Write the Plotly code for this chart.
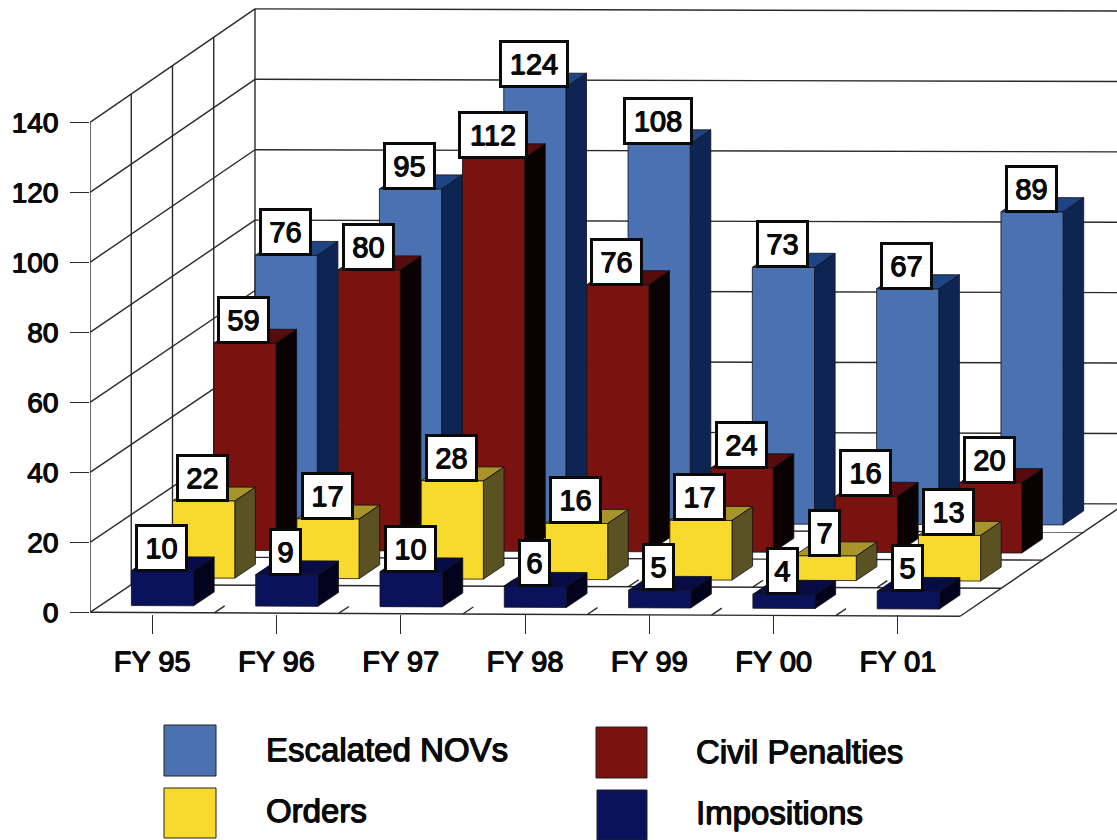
import plotly.graph_objects as go

categories = ["FY 95", "FY 96", "FY 97", "FY 98", "FY 99", "FY 00", "FY 01"]
escalated = [76, 95, 124, 108, 73, 67, 89]
civil = [59, 80, 112, 76, 24, 16, 20]
orders = [22, 17, 28, 16, 17, 7, 13]
impositions = [10, 9, 10, 6, 5, 4, 5]
value_ticks = [0, 20, 40, 60, 80, 100, 120, 140]

# back to front: name, values, depth slot, (front, top, side) colours
series = [
    ("Escalated NOVs", escalated, 3, ("#4A72B2", "#1E4484", "#0E2452")),
    ("Civil Penalties", civil, 2, ("#7A1210", "#560C0C", "#0A0202")),
    ("Orders", orders, 1, ("#F8DA2E", "#A8942A", "#5A5222")),
    ("Impositions", impositions, 0, ("#0A125C", "#070C46", "#03031E")),
]

W, H = 1117, 840
X0, Y0 = 90, 612.3
CAT_W, DEPTH_X, DEPTH_Y, UNIT = 124.3, 41.25, 27.75, 3.5
FAT = "0.6px 0 0.4px #111, -0.6px 0 0.4px #111, 0 0.5px 0.4px #111, 0 -0.5px 0.4px #111"


def tilt(d):
    return 0.0045 - 0.0005 * d


def xy(c, d, v):
    xp = CAT_W * c + DEPTH_X * d
    scale = (UNIT + 0.005 * d) / UNIT
    return c + d * DEPTH_X / CAT_W, v * scale + (DEPTH_Y * d - tilt(d) * xp) / UNIT


def poly(points):
    pts = [xy(*p) for p in points]
    pts.append(pts[0])
    return [p[0] for p in pts], [p[1] for p in pts]


def segments(pairs):
    xs, ys = [], []
    for a, b in pairs:
        xa, ya = xy(*a)
        xb, yb = xy(*b)
        xs += [xa, xb, None]
        ys += [ya, yb, None]
    return xs, ys


fig = go.Figure()
LINE = "#2a2a2a"
n = len(categories)
vmax = value_ticks[-1]


def add_lines(pairs, name, width=1.4):
    xs, ys = segments(pairs)
    fig.add_trace(go.Scatter(x=xs, y=ys, mode="lines", name=name, hoverinfo="skip",
                             line=dict(color=LINE, width=width), showlegend=False))


# walls
grid = []
for v in value_ticks:
    grid.append(((0, 0, v), (0, 4, v)))
    grid.append(((0, 4, v), (n + 1, 4, v)))
for d in range(5):
    grid.append(((0, d, 0), (0, d, vmax)))
add_lines(grid, "walls")

# floor
floor = [((0, 0, 0), (n, 0, 0)), ((n, 0, 0), (n, 4, 0))]
for d in range(1, 4):
    floor.append(((0, d, 0), (n, d, 0)))
for c in range(1, n):
    for d in range(4):
        floor.append(((c, d, 0), (c, d + 0.25, 0)))
add_lines(floor, "floor")

# bars
annotations = []
for name, values, slot, (front, top, side) in series:
    d0, d1 = slot + 0.25, slot + 0.75
    faces = {"top": ([], [], top), "side": ([], [], side), "front": ([], [], front)}
    for c, v in enumerate(values):
        c0, c1 = c + 0.25, c + 0.75
        for key, pts in (
            ("top", [(c0, d0, v), (c1, d0, v), (c1, d1, v), (c0, d1, v)]),
            ("side", [(c1, d0, 0), (c1, d1, 0), (c1, d1, v), (c1, d0, v)]),
            ("front", [(c0, d0, 0), (c1, d0, 0), (c1, d0, v), (c0, d0, v)]),
        ):
            xs, ys = poly(pts)
            faces[key][0].extend(xs + [None])
            faces[key][1].extend(ys + [None])
        ax, ay = xy(c + 0.5, d0, v)
        digits = len(str(v))
        annotations.append(dict(
            x=ax, y=ay, xref="x", yref="y", text=str(v), showarrow=False,
            xanchor="center", yanchor="bottom", yshift=-1, xshift=-1,
            font=dict(family="Liberation Sans", size=29, color="#0a0a0a", shadow=FAT),
            bgcolor="#ffffff", bordercolor="#0a0a0a", borderwidth=3, borderpad=0,
            width={1: 27, 2: 47, 3: 64}[digits], height=42,
        ))
    for key in ("top", "side", "front"):
        xs, ys, col = faces[key]
        fig.add_trace(go.Scatter(
            x=xs, y=ys, mode="lines", fill="toself", fillcolor=col, name=f"{name} {key}",
            line=dict(color="#101018", width=0.8), hoverinfo="skip", showlegend=False))

# legend
legend = [
    ("Escalated NOVs", "#4A72B2", 164, 725, 216, 776, 264, 749),
    ("Civil Penalties", "#7A1210", 596, 727, 647, 778, 694, 751),
    ("Orders", "#F8DA2E", 164, 788, 216, 838, 264, 810),
    ("Impositions", "#0A125C", 597, 790, 647, 840, 694, 812),
]
shapes = []
for label, col, x0, y0, x1, y1, tx, ty in legend:
    shapes.append(dict(type="rect", xref="paper", yref="paper", x0=x0 / W, x1=x1 / W,
                       y0=1 - y1 / H, y1=1 - y0 / H, fillcolor=col, line=dict(color="#222222", width=1)))
    annotations.append(dict(x=tx / W, y=1 - ty / H, xref="paper", yref="paper", text=label,
                            showarrow=False, xanchor="left", yanchor="middle",
                            font=dict(family="Liberation Sans", size=33, color="#0a0a0a", shadow=FAT)))

y_font = dict(family="Liberation Sans", size=28, color="#0a0a0a", shadow=FAT)
x_font = dict(family="Liberation Sans", size=29, color="#0a0a0a", shadow=FAT)
fig.update_layout(
    width=W, height=H, margin=dict(l=0, r=0, t=0, b=0), autosize=False,
    paper_bgcolor="#ffffff", plot_bgcolor="rgba(0,0,0,0)", showlegend=False,
    annotations=annotations, shapes=shapes,
    font=dict(family="Liberation Sans", size=28, color="#0a0a0a"),
    xaxis=dict(domain=[X0 / W, 1], range=[0, (W - X0) / CAT_W], anchor="free",
               position=1 - 614 / H, tickmode="array", tickvals=[c + 0.5 for c in range(n)],
               ticktext=categories, ticks="outside", ticklen=19, tickwidth=1.4, tickcolor=LINE,
               showgrid=False, zeroline=False, showline=False, ticklabelstandoff=3,
               tickfont=x_font),
    yaxis=dict(domain=[0, 1], range=[(Y0 - H) / UNIT, Y0 / UNIT], tickmode="array",
               tickvals=value_ticks, ticks="outside", ticklen=19, tickwidth=1.4, tickcolor=LINE,
               showgrid=False, zeroline=False, showline=False, ticklabelstandoff=6,
               tickfont=y_font),
)

fig.write_html("out.html", post_script="document.body.style.margin='0';",
               config={"displayModeBar": False})
